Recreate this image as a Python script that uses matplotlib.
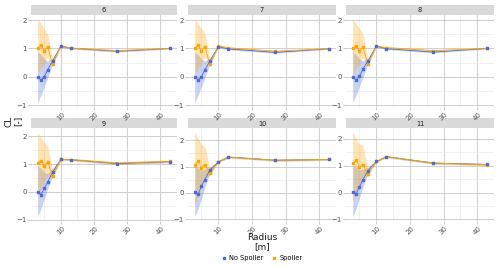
import numpy as np
import matplotlib.pyplot as plt

radius = [3, 4, 5, 6, 7.5, 10, 13, 27, 43]
panels = ["6", "7", "8", "9", "10", "11"]

# mean CL per panel
cl_no = {
    "6":  [0.0, -0.12, 0.0, 0.24, 0.55, 1.08, 1.01, 0.90, 1.00],
    "7":  [0.0, -0.12, 0.0, 0.24, 0.55, 1.06, 0.98, 0.86, 0.99],
    "8":  [0.0, -0.12, 0.02, 0.26, 0.55, 1.08, 0.99, 0.87, 1.00],
    "9":  [0.0, -0.10, 0.12, 0.35, 0.71, 1.17, 1.16, 1.02, 1.09],
    "10": [0.05, -0.05, 0.26, 0.50, 0.87, 1.18, 1.36, 1.24, 1.27],
    "11": [0.04, -0.05, 0.22, 0.47, 0.82, 1.16, 1.34, 1.10, 1.05],
}
cl_sp = {
    "6":  [1.00, 1.12, 0.92, 1.06, 0.45, 1.08, 1.01, 0.92, 1.00],
    "7":  [1.00, 1.12, 0.92, 1.06, 0.45, 1.09, 1.02, 0.90, 0.99],
    "8":  [1.00, 1.10, 0.90, 1.06, 0.45, 1.08, 1.03, 0.92, 1.00],
    "9":  [1.05, 1.13, 0.94, 1.07, 0.58, 1.17, 1.16, 1.04, 1.10],
    "10": [1.06, 1.22, 0.96, 1.07, 0.77, 1.18, 1.36, 1.24, 1.27],
    "11": [1.09, 1.22, 0.96, 1.04, 0.70, 1.16, 1.34, 1.10, 1.04],
}
# ribbon bounds
no_lo = {
    "6":  [-0.92, -0.65, -0.35, -0.05, 0.45, 1.05, 0.98, 0.87, 0.98],
    "7":  [-0.92, -0.65, -0.35, -0.05, 0.45, 1.03, 0.95, 0.83, 0.97],
    "8":  [-0.92, -0.65, -0.33, -0.03, 0.45, 1.05, 0.96, 0.84, 0.98],
    "9":  [-0.90, -0.60, -0.25, 0.10, 0.58, 1.14, 1.13, 0.99, 1.06],
    "10": [-0.90, -0.60, -0.20, 0.20, 0.75, 1.15, 1.33, 1.21, 1.24],
    "11": [-0.90, -0.60, -0.20, 0.20, 0.72, 1.13, 1.31, 1.07, 1.02],
}
no_hi = {
    "6":  [0.88, 0.78, 0.62, 0.55, 0.65, 1.11, 1.04, 0.93, 1.02],
    "7":  [0.88, 0.78, 0.62, 0.55, 0.65, 1.09, 1.01, 0.89, 1.01],
    "8":  [0.88, 0.78, 0.62, 0.56, 0.65, 1.11, 1.02, 0.90, 1.02],
    "9":  [0.95, 0.85, 0.70, 0.65, 0.85, 1.20, 1.19, 1.05, 1.12],
    "10": [1.00, 0.95, 0.85, 0.90, 0.97, 1.21, 1.39, 1.27, 1.30],
    "11": [1.00, 0.95, 0.85, 0.88, 0.95, 1.19, 1.37, 1.13, 1.08],
}
sp_lo = {
    "6":  [0.05, 0.30, 0.45, 0.70, 0.35, 1.05, 0.98, 0.89, 0.98],
    "7":  [0.05, 0.30, 0.45, 0.70, 0.35, 1.06, 0.99, 0.87, 0.97],
    "8":  [0.05, 0.30, 0.45, 0.70, 0.35, 1.05, 1.00, 0.89, 0.98],
    "9":  [-0.10, 0.10, 0.35, 0.60, 0.45, 1.13, 1.12, 0.99, 1.05],
    "10": [-0.55, -0.10, 0.30, 0.55, 0.65, 1.14, 1.32, 1.20, 1.23],
    "11": [-0.35, 0.00, 0.35, 0.55, 0.60, 1.12, 1.30, 1.06, 1.00],
}
sp_hi = {
    "6":  [2.03, 1.88, 1.70, 1.52, 0.60, 1.12, 1.05, 0.95, 1.02],
    "7":  [2.03, 1.88, 1.70, 1.52, 0.60, 1.13, 1.06, 0.93, 1.01],
    "8":  [2.03, 1.88, 1.70, 1.52, 0.60, 1.12, 1.06, 0.95, 1.02],
    "9":  [2.15, 1.95, 1.80, 1.65, 0.75, 1.21, 1.21, 1.09, 1.15],
    "10": [2.30, 2.05, 1.85, 1.75, 0.95, 1.22, 1.40, 1.28, 1.31],
    "11": [2.25, 2.00, 1.80, 1.75, 0.90, 1.20, 1.38, 1.14, 1.08],
}

BLUE = "#4A6CD8"
ORANGE = "#FFA500"

fig = plt.figure(figsize=(5.0, 2.68), dpi=100)
W, H = 500.0, 268.0
cols = [(31, 177), (188, 336), (346, 494)]
rows = [(15, 107), (128, 221)]
strip_h = 10

# strips first so the tick labels of the top row draw over them
for i, p in enumerate(panels):
    c0, c1 = cols[i % 3]
    r0, r1 = rows[i // 3]
    sax = fig.add_axes([c0 / W, 1 - r0 / H, (c1 - c0) / W, strip_h / H])
    sax.set_facecolor("#D9D9D9")
    sax.set_xticks([])
    sax.set_yticks([])
    for s in sax.spines.values():
        s.set_visible(False)
    sax.text(0.5, 0.45, p, ha="center", va="center", fontsize=4.8, color="#1A1A1A")

for i, p in enumerate(panels):
    c0, c1 = cols[i % 3]
    r0, r1 = rows[i // 3]
    ax = fig.add_axes([c0 / W, 1 - r1 / H, (c1 - c0) / W, (r1 - r0) / H])
    ax.patch.set_alpha(0)

    ax.fill_between(radius, no_lo[p], no_hi[p], color=BLUE, alpha=0.3, lw=0)
    ax.fill_between(radius, sp_lo[p], sp_hi[p], color=ORANGE, alpha=0.3, lw=0)
    ax.plot(radius, cl_no[p], color=BLUE, lw=0.6, zorder=3)
    ax.plot(radius, cl_sp[p], color=ORANGE, lw=0.6, zorder=3)
    ax.plot(radius, cl_sp[p], color=ORANGE, ls="", marker="s", ms=1.6, zorder=4)
    ax.plot(radius, cl_no[p], color=BLUE, ls="", marker="s", ms=1.6, zorder=4)

    ax.set_xlim(1, 45)
    ax.margins(y=0.05)
    ax.set_xticks([10, 20, 30, 40])
    ax.set_xticks([5, 15, 25, 35], minor=True)
    ax.set_yticks([-1, 0, 1, 2])
    ax.set_yticks([-0.5, 0.5, 1.5], minor=True)
    ax.grid(which="major", color="#C8C8C8", lw=0.6)
    ax.grid(which="minor", color="#E6E6E6", lw=0.4)
    ax.set_axisbelow(True)
    for s in ax.spines.values():
        s.set_visible(False)
    ax.tick_params(which="major", length=2, width=0.5, color="#B3B3B3",
                   labelsize=5, labelcolor="#4D4D4D", pad=1.2)
    ax.tick_params(which="minor", length=0)
    for lab in ax.get_xticklabels():
        lab.set_rotation(45)
        lab.set_ha("center")
        lab.set_va("top")

fig.text(262 / W, 1 - 242 / H, "Radius\n[m]", ha="center", va="center",
         fontsize=6.5, color="#1A1A1A", linespacing=1.0)
fig.text(13 / W, 1 - 121 / H, "CL\n[-]", ha="center", va="center",
         fontsize=6.5, color="#1A1A1A", rotation=90, linespacing=1.0)

handles = [
    plt.Line2D([], [], color=BLUE, marker="s", ls="", ms=1.8),
    plt.Line2D([], [], color=ORANGE, marker="s", ls="", ms=1.8),
]
fig.legend(handles, ["No Spoiler", "Spoiler"], loc="center",
           bbox_to_anchor=(262 / W, 1 - 258 / H), ncol=2, frameon=False,
           fontsize=4.8, handlelength=0.8, handletextpad=0.4, columnspacing=1.2)

fig.savefig("out.png", dpi=100)
